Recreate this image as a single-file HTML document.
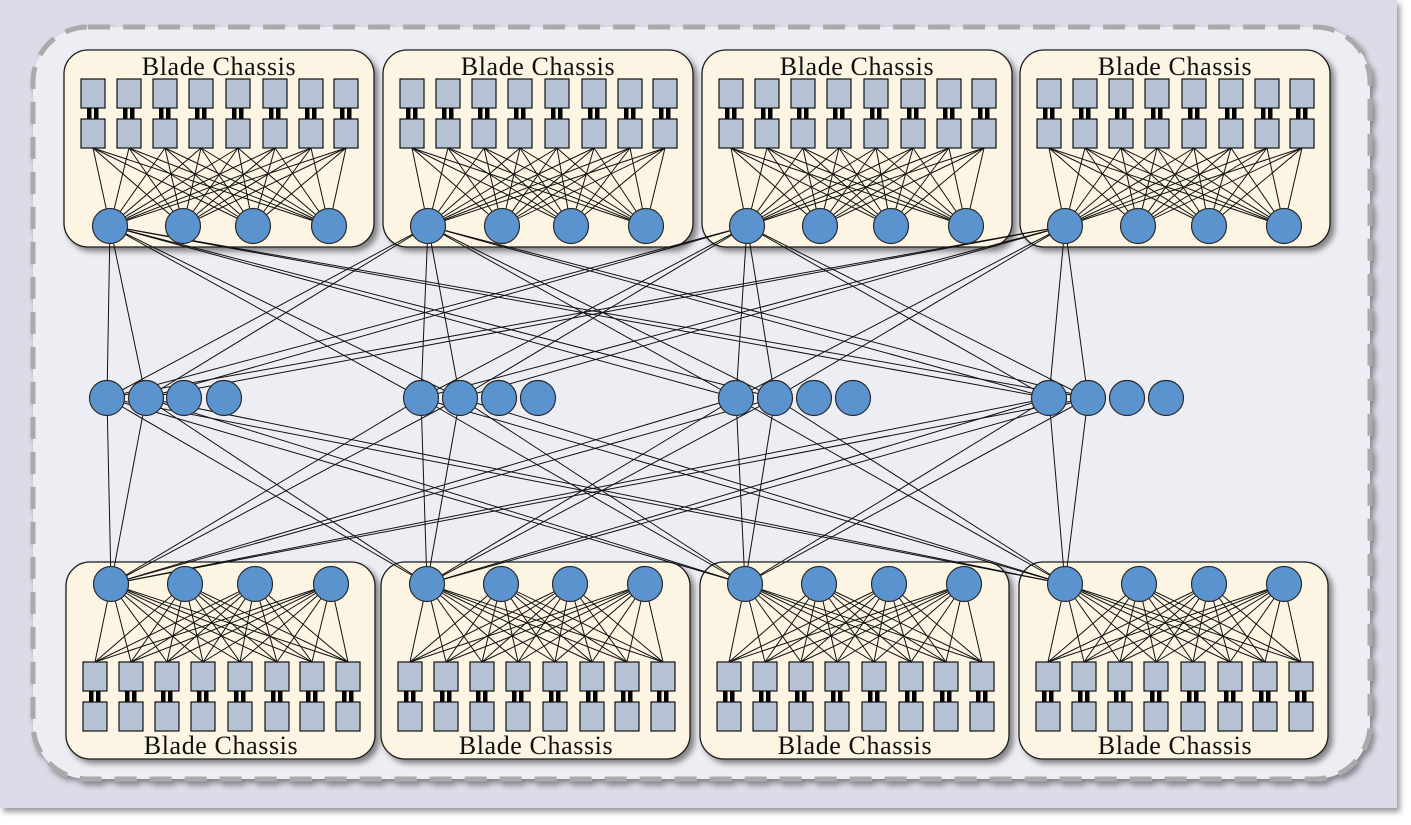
<!DOCTYPE html>
<html><head><meta charset="utf-8"><style>
html,body{margin:0;padding:0;background:#fff;width:1411px;height:825px;overflow:hidden}
svg{display:block}
text{font-family:"Liberation Serif",serif;font-size:26px;letter-spacing:0.6px;fill:#111}
</style></head><body>
<svg id="s" width="1411" height="825" xmlns="http://www.w3.org/2000/svg">
<defs>
<filter id="sh" x="-10%" y="-10%" width="130%" height="130%"><feDropShadow dx="4" dy="4" stdDeviation="3" flood-color="#000" flood-opacity="0.45"/></filter>
<filter id="sh2" x="-5%" y="-5%" width="110%" height="110%"><feDropShadow dx="3" dy="4" stdDeviation="3" flood-color="#000" flood-opacity="0.4"/></filter>
</defs>
<rect x="0" y="0" width="1397" height="808" fill="#dcdce9" filter="url(#sh2)"/>
<rect x="33" y="27" width="1337" height="752" rx="55" fill="#ededf4" stroke="#aaaaaa" stroke-width="5" stroke-dasharray="22,13" filter="url(#sh2)"/>
<g id="boxes"></g>
<g id="lines" stroke="#111" stroke-width="1" fill="none"></g>
<g id="nodes"></g>
<g>
<text x="219" y="75" text-anchor="middle">Blade Chassis</text>
<text x="538" y="75" text-anchor="middle">Blade Chassis</text>
<text x="857" y="75" text-anchor="middle">Blade Chassis</text>
<text x="1175" y="75" text-anchor="middle">Blade Chassis</text>
<text x="221" y="754" text-anchor="middle">Blade Chassis</text>
<text x="536" y="754" text-anchor="middle">Blade Chassis</text>
<text x="855" y="754" text-anchor="middle">Blade Chassis</text>
<text x="1175" y="754" text-anchor="middle">Blade Chassis</text>
</g>
</svg>
<script>
var NS="http://www.w3.org/2000/svg";
function el(p,t,a){var e=document.createElementNS(NS,t);for(var k in a)e.setAttribute(k,a[k]);document.getElementById(p).appendChild(e);return e;}
function line(x1,y1,x2,y2){el("lines","line",{x1:x1,y1:y1,x2:x2,y2:y2});}
function circ(x,y){el("nodes","circle",{cx:x,cy:y,r:17.5,fill:"#5b93cf",stroke:"#2a2a2a","stroke-width":1.2});}
function sq(x,y){el("nodes","rect",{x:x,y:y,width:24,height:29,fill:"#b4c2d3",stroke:"#111","stroke-width":1.2});}
function bars(x,y){el("nodes","rect",{x:x+6,y:y,width:4.5,height:11,fill:"#000"});el("nodes","rect",{x:x+13,y:y,width:4.5,height:11,fill:"#000"});}
var topX=[64,383,702,1020], botX=[66,381,700,1019];
var topC=[[110,183,253,329],[428,502,571,646],[747,820,891,966],[1065,1138,1209,1284]];
var botC=[[111,185,255,331],[427,501,570,645],[745,819,889,964],[1065,1139,1209,1284]];
var sqOffT=[17,53,89,125,162,199,235,270], sqOffB=[17,53,89,125,162,199,234,270];
var mid=[[107,146,184,224],[421,460,499,538],[736,775,814,853],[1049,1088,1127,1166]];
var MY=398,TY=226,BY=584;
for(var k=0;k<4;k++){
 el("boxes","rect",{x:topX[k],y:50,width:310,height:197,rx:24,fill:"#fdf5e3",stroke:"#1a1a1a","stroke-width":1.3,filter:"url(#sh)"});
 el("boxes","rect",{x:botX[k],y:562,width:309,height:197,rx:24,fill:"#fdf5e3",stroke:"#1a1a1a","stroke-width":1.3,filter:"url(#sh)"});
}
for(var k=0;k<4;k++){
 for(var i=0;i<8;i++){var x=topX[k]+sqOffT[i];sq(x,79);bars(x,108);sq(x,119);
  for(var c=0;c<4;c++)line(x+12,148,topC[k][c],TY);}
 for(var c=0;c<4;c++)circ(topC[k][c],TY);
 for(var i=0;i<8;i++){var x=botX[k]+sqOffB[i];sq(x,662);bars(x,691);sq(x,702);
  for(var c=0;c<4;c++)line(x+12,662,botC[k][c],BY);}
 for(var c=0;c<4;c++)circ(botC[k][c],BY);
 for(var j=0;j<4;j++){for(var m=0;m<2;m++){line(topC[k][0],TY,mid[j][m],MY);line(botC[k][0],BY,mid[j][m],MY);}}
}
for(var j=0;j<4;j++)for(var m=0;m<4;m++)circ(mid[j][m],MY);
</script>
</body></html>
